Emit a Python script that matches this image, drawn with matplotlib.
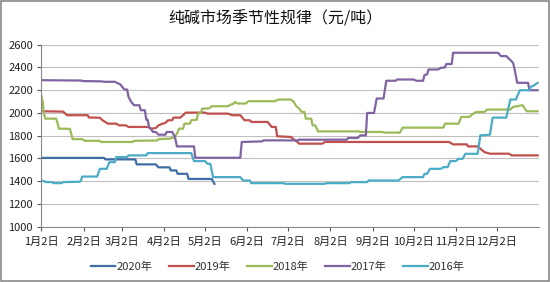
import numpy as np
import matplotlib
matplotlib.use("Agg")
import matplotlib.pyplot as plt
from matplotlib.patches import Rectangle

plt.rcParams["font.family"] = ["Noto Sans CJK SC", "DejaVu Sans"]

# x = days after Jan 2
month_days = [0, 31, 59, 90, 120, 151, 181, 212, 243, 273, 304, 334]
month_labels = ["1月2日", "2月2日", "3月2日", "4月2日", "5月2日", "6月2日",
                "7月2日", "8月2日", "9月2日", "10月2日", "11月2日", "12月2日"]

x_2020 = [0, 46, 47, 69, 70, 84, 86, 94, 95, 99, 100, 107, 108, 125, 127]
y_2020 = [1605, 1605, 1592, 1592, 1548, 1548, 1522, 1522, 1495, 1495, 1465, 1465,
          1420, 1420, 1377]

x_2019 = [0, 16, 19, 34, 35, 43, 45, 49, 55, 57, 62, 64, 78, 81, 84, 86, 89, 91,
          93, 96, 97, 102, 104, 106, 120, 122, 137, 140, 146, 149, 153, 154, 166,
          169, 172, 173, 183, 186, 188, 189, 206, 208, 299, 302, 312, 313, 320,
          325, 329, 343, 345, 364]
y_2019 = [2015, 2012, 1980, 1980, 1960, 1958, 1935, 1906, 1906, 1891, 1891, 1877,
          1877, 1862, 1868, 1891, 1906, 1912, 1936, 1936, 1959, 1959, 1980, 2003,
          2003, 1994, 1994, 1980, 1980, 1936, 1936, 1921, 1921, 1877, 1877, 1795,
          1789, 1760, 1745, 1730, 1730, 1745, 1745, 1724, 1724, 1706, 1706, 1656,
          1642, 1642, 1627, 1627]

x_2018 = [0, 1, 2, 3, 11, 13, 21, 23, 30, 32, 43, 44, 67, 68, 85, 86, 94, 96, 98,
          100, 101, 104, 105, 109, 110, 114, 115, 117, 118, 123, 125, 137, 139,
          141, 142, 144, 150, 152, 171, 174, 183, 185, 187, 189, 191, 193, 194,
          198, 199, 201, 203, 233, 234, 250, 252, 263, 265, 295, 296, 306, 308,
          314, 316, 319, 325, 327, 344, 346, 353, 355, 356, 364]
y_2018 = [2155, 2100, 1990, 1950, 1950, 1862, 1860, 1770, 1770, 1755, 1755, 1745,
          1745, 1755, 1758, 1770, 1774, 1780, 1789, 1830, 1862, 1862, 1906, 1906,
          1936, 1940, 1994, 2000, 2038, 2040, 2059, 2059, 2074, 2080, 2097, 2083,
          2083, 2103, 2103, 2118, 2118, 2100, 2060, 2040, 2009, 2009, 1950, 1950,
          1891, 1891, 1838, 1838, 1833, 1833, 1827, 1827, 1871, 1871, 1906, 1906,
          1965, 1965, 1988, 2009, 2009, 2030, 2030, 2053, 2068, 2030, 2015, 2015]

x_2017 = [0, 29, 31, 44, 46, 54, 58, 61, 63, 64, 66, 68, 72, 73, 76, 77, 78, 79,
          82, 84, 86, 91, 92, 96, 98, 99.5, 112, 113, 146, 147, 162, 163, 188, 189,
          224, 225, 232, 234, 238, 239, 244, 246, 251, 253, 260, 261, 273, 275,
          280, 281, 283, 284, 291, 293, 296, 297, 301, 302, 335, 337, 341, 344,
          346, 347, 349, 357, 358, 364]
y_2017 = [2288, 2285, 2280, 2278, 2274, 2274, 2250, 2206, 2206, 2140, 2097, 2068,
          2068, 2024, 2024, 1941, 1941, 1880, 1833, 1833, 1809, 1809, 1833, 1833,
          1790, 1706, 1706, 1606, 1606, 1745, 1750, 1759, 1759, 1765, 1765, 1780,
          1780, 1803, 1803, 2000, 2000, 2127, 2127, 2283, 2283, 2294, 2294, 2283,
          2283, 2333, 2340, 2382, 2382, 2397, 2400, 2430, 2430, 2529, 2529, 2500,
          2500, 2465, 2440, 2392, 2265, 2265, 2200, 2200]

x_2016 = [0, 4, 8, 9, 15, 16, 28, 29, 30, 41, 43, 48, 50, 54, 55, 63, 64, 77, 78,
          110, 112, 120, 122, 124, 126, 146, 147, 148, 153, 154, 178, 179, 208,
          209, 226, 227, 239, 240, 262, 265, 280, 281, 283, 285, 293, 295, 298,
          300, 304, 306, 309, 311, 320, 322, 329, 331, 341, 344, 348, 351, 358,
          359, 361, 364]
y_2016 = [1406, 1392, 1392, 1383, 1383, 1392, 1395, 1403, 1441, 1441, 1509, 1509,
          1568, 1568, 1612, 1612, 1627, 1627, 1647, 1647, 1577, 1577, 1553, 1553,
          1436, 1436, 1420, 1406, 1406, 1383, 1383, 1377, 1377, 1383, 1383, 1392,
          1392, 1406, 1406, 1436, 1436, 1465, 1465, 1509, 1509, 1524, 1524, 1577,
          1577, 1597, 1597, 1641, 1641, 1803, 1809, 1959, 1959, 2118, 2118, 2200,
          2200, 2230, 2240, 2265]

series = [
    ("2020年", x_2020, y_2020, "#3F6DA6"),
    ("2019年", x_2019, y_2019, "#C0504D"),
    ("2018年", x_2018, y_2018, "#9BBB59"),
    ("2017年", x_2017, y_2017, "#8064A2"),
    ("2016年", x_2016, y_2016, "#4BACC6"),
]

fig = plt.figure(figsize=(5.5, 2.82), dpi=100)
ax = fig.add_axes([0.075, 0.196, 0.905, 0.6455])

for name, xs, ys, color in series:
    ax.plot(xs, ys, color=color, linewidth=1.6, label=name, solid_joinstyle="round")

ax.set_xlim(0, 365)
ax.set_ylim(1000, 2600)
ax.set_yticks(np.arange(1000, 2601, 200))
ax.set_xticks(month_days)
ax.set_xticklabels(month_labels)
ax.tick_params(axis="both", labelsize=8, colors="#555555", labelcolor="#222222",
               length=3, width=0.8)
ax.tick_params(axis="x", pad=4)
ax.tick_params(axis="y", pad=3)
ax.grid(axis="y", color="#BFBFBF", linewidth=0.8)
ax.set_axisbelow(True)
for side in ["top", "right"]:
    ax.spines[side].set_visible(False)
for side in ["left", "bottom"]:
    ax.spines[side].set_color("#888888")
    ax.spines[side].set_linewidth(0.8)

fig.text(0.5, 0.933, "纯碱市场季节性规律（元/吨）", ha="center", va="center",
         fontsize=11.5, fontweight="medium", color="#111111")

fig.legend(loc="center", bbox_to_anchor=(0.505, 0.053), ncol=5, frameon=False,
           fontsize=8, handlelength=2.2, handletextpad=0.1, columnspacing=1.5,
           labelcolor="#333333")

fig.patches.append(Rectangle((0.001, 0.002), 0.997, 0.995, transform=fig.transFigure,
                             fill=False, edgecolor="#888888", linewidth=1.2))

fig.savefig("out.png", dpi=100)
